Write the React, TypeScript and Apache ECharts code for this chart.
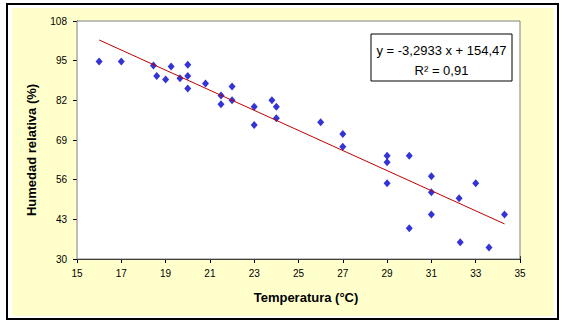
import React, { useEffect, useRef } from "react";
import * as echarts from "echarts";

// Data
const temperature = [
  16, 17, 18.45, 18.6, 19, 19.25, 19.65, 20, 20, 20, 20.8, 21.5, 21.5, 22, 22,
  23, 23, 23.8, 24, 24, 26, 27, 27, 29, 29, 29, 30, 30, 31, 31, 31, 32.25, 32.3,
  33, 33.6, 34.3,
];
const humidity = [
  94.7, 94.7, 93.4, 90.0, 88.8, 93.1, 89.2, 93.7, 90.0, 85.9, 87.5, 83.6, 80.7,
  86.5, 82.0, 79.9, 73.9, 82.0, 79.9, 76.1, 74.8, 71.0, 66.8, 63.8, 61.7, 54.8,
  63.8, 40.1, 57.1, 51.9, 44.6, 49.9, 35.5, 54.8, 33.8, 44.6,
];

// Linear trend line shown on the chart
const trendSlope = -3.2933;
const trendIntercept = 154.47;
const equationText = "y = -3,2933 x + 154,47";
const r2Text = "R² = 0,91";

// Axes
const xMin = 15;
const xMax = 35;
const xInterval = 2;
const yMin = 30;
const yMax = 108;
const yInterval = 13;
const xTitle = "Temperatura (°C)";
const yTitle = "Humedad relativa (%)";

const FONT = "'Liberation Sans', Arial, sans-serif";

export default function App() {
  const ref = useRef<HTMLDivElement>(null);

  useEffect(() => {
    const chart = echarts.init(ref.current!, null, { renderer: "svg" });
    const points = temperature.map((t, i) => [t, humidity[i]]);
    const tLo = Math.min(...temperature);
    const tHi = Math.max(...temperature);
    const trend = [
      [tLo, trendSlope * tLo + trendIntercept],
      [tHi, trendSlope * tHi + trendIntercept],
    ];

    const baseX = {
      type: "value",
      min: xMin,
      max: xMax,
      interval: xInterval,
      position: "bottom",
      splitLine: { show: false },
    };
    const baseY = {
      type: "value",
      min: yMin,
      max: yMax,
      interval: yInterval,
      position: "left",
      splitLine: { show: false },
    };

    chart.setOption({
      animation: false,
      backgroundColor: "#ffffff",
      grid: {
        left: 77,
        top: 21,
        width: 443,
        height: 238,
        show: true,
        backgroundColor: "#ffffff",
        borderColor: "#808080",
        borderWidth: 1,
        z: 1,
      },
      xAxis: [
        {
          ...baseX,
          axisLine: { show: true, lineStyle: { color: "#000", width: 1 } },
          axisTick: { show: true, inside: false, length: 4, lineStyle: { color: "#000" } },
          axisLabel: { color: "#000", fontSize: 10, fontFamily: FONT, margin: 9 },
        },
        {
          ...baseX,
          axisLine: { show: false },
          axisTick: { show: true, inside: true, length: 3, lineStyle: { color: "#000" } },
          axisLabel: { show: false },
        },
      ],
      yAxis: [
        {
          ...baseY,
          axisLine: { show: true, lineStyle: { color: "#000", width: 1 } },
          axisTick: { show: true, inside: false, length: 4, lineStyle: { color: "#000" } },
          axisLabel: { color: "#000", fontSize: 10, fontFamily: FONT, margin: 10 },
        },
        {
          ...baseY,
          axisLine: { show: false },
          axisTick: { show: true, inside: true, length: 2, lineStyle: { color: "#000" } },
          axisLabel: { show: false },
        },
      ],
      series: [
        {
          type: "scatter",
          data: points,
          symbol: "diamond",
          symbolSize: [7, 8],
          itemStyle: { color: "#0000CC" },
          z: 3,
        },
        {
          type: "line",
          data: trend,
          showSymbol: false,
          symbol: "none",
          lineStyle: { color: "#C00000", width: 1 },
          z: 4,
        },
      ],
      graphic: [
        {
          type: "rect",
          z: -10,
          shape: { x: 7, y: 4, width: 551, height: 315 },
          style: { fill: "#ffffff", stroke: "#000", lineWidth: 2 },
        },
        {
          type: "rect",
          z: -9,
          shape: { x: 12, y: 8, width: 542, height: 308 },
          style: { fill: "#FFFFCC" },
        },
        {
          type: "rect",
          z: 10,
          shape: { x: 371, y: 34, width: 141, height: 47 },
          style: { fill: "#ffffff", stroke: "#000", lineWidth: 1 },
        },
        {
          type: "text",
          z: 11,
          x: 441.5,
          y: 50,
          style: {
            text: equationText,
            fill: "#000",
            font: `13px ${FONT}`,
            textAlign: "center",
            textVerticalAlign: "middle",
          },
        },
        {
          type: "text",
          z: 11,
          x: 441.5,
          y: 70,
          style: {
            text: r2Text,
            fill: "#000",
            font: `13px ${FONT}`,
            textAlign: "center",
            textVerticalAlign: "middle",
          },
        },
        {
          type: "text",
          z: 11,
          x: 306,
          y: 297,
          style: {
            text: xTitle,
            fill: "#000",
            font: `bold 13px ${FONT}`,
            textAlign: "center",
            textVerticalAlign: "middle",
          },
        },
        {
          type: "text",
          z: 11,
          x: 31,
          y: 150,
          rotation: Math.PI / 2,
          style: {
            text: yTitle,
            fill: "#000",
            font: `bold 13px ${FONT}`,
            textAlign: "center",
            textVerticalAlign: "middle",
          },
        },
      ],
    });
    return () => chart.dispose();
  }, []);

  return (
    <div
      ref={ref}
      style={{ position: "fixed", left: 0, top: 0, width: 567, height: 329 }}
    />
  );
}
